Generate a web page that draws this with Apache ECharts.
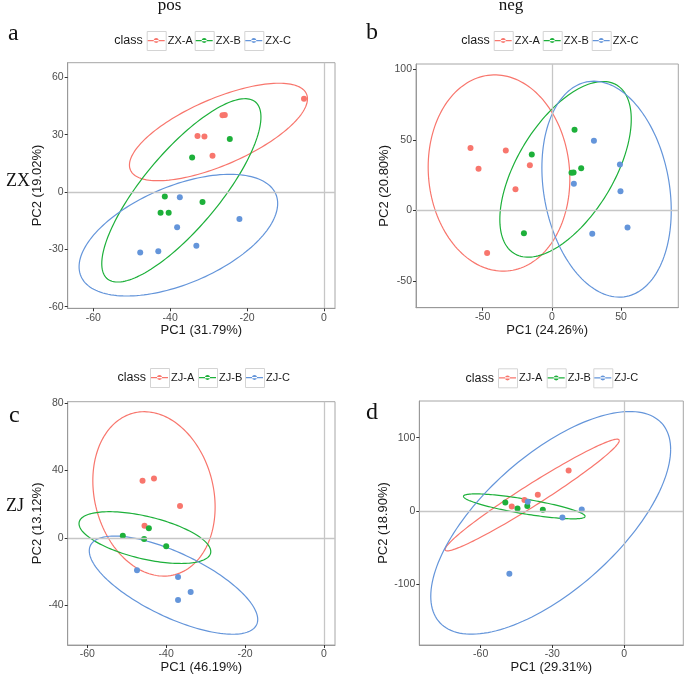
<!DOCTYPE html>
<html>
<head>
<meta charset="utf-8">
<script src="https://cdn.jsdelivr.net/npm/echarts@6/dist/echarts.min.js"></script>
<style>
html,body{margin:0;padding:0;background:#fff;}
#chart{width:685px;height:679px;}
</style>
</head>
<body>
<div id="chart"></div>
<script>
// ---------- DATA ----------
const classes1 = ['ZX-A', 'ZX-B', 'ZX-C'];
const classes2 = ['ZJ-A', 'ZJ-B', 'ZJ-C'];

// panel a: pos / ZX
const posZX_A = [[-5.2,48.8],[-26.4,40.1],[-25.8,40.3],[-32.9,29.3],[-31.1,29.0],[-29.0,19.0]];
const posZX_B = [[-24.5,27.7],[-34.3,18.0],[-41.4,-2.4],[-42.5,-10.8],[-40.4,-10.8],[-31.6,-5.2]];
const posZX_C = [[-37.5,-2.8],[-22.0,-14.1],[-38.2,-18.5],[-33.2,-28.1],[-43.1,-31.0],[-47.8,-31.7]];
// panel b: neg / ZX
const negZX_A = [[-58.8,44.2],[-53.0,29.5],[-33.3,42.5],[-15.9,32.1],[-26.3,15.1],[-46.8,-30.2]];
const negZX_B = [[16.4,57.2],[-14.5,39.7],[14.2,26.7],[15.7,26.9],[21.2,30.0],[-20.2,-16.1]];
const negZX_C = [[30.4,49.4],[49.2,32.6],[15.9,18.9],[49.6,13.7],[54.7,-12.0],[29.2,-16.5]];
// panel c: pos / ZJ
const posZJ_A = [[-46.0,33.9],[-43.1,35.3],[-36.5,18.9],[-45.5,7.1]];
const posZJ_B = [[-51.0,1.2],[-45.6,-0.8],[-44.4,5.6],[-40.0,-5.0]];
const posZJ_C = [[-47.4,-19.3],[-37.0,-23.4],[-33.8,-32.2],[-37.0,-37.1]];
// panel d: neg / ZJ
const negZJ_A = [[-23.2,55.1],[-36.1,21.9],[-41.7,15.0],[-47.0,5.9]];
const negZJ_B = [[-49.7,11.4],[-44.6,3.2],[-40.5,6.8],[-34.0,1.4]];
const negZJ_C = [[-40.3,12.3],[-25.8,-9.1],[-17.7,1.8],[-48.0,-86.1]];

// confidence ellipses: [xmin, xmax, ymin, ymax, cos(phase)]
const ellPosZX = [[-50.6,-4.3,5.9,56.9,0.68],[-57.8,-16.4,-47.1,48.8,0.8],[-63.7,-12.05,-54.4,9.25,0.52]];
const ellNegZX = [[-89.4,13.0,-43.0,96.1,-0.06],[-37.6,57.4,-33.1,91.4,0.57],[-7.2,86.3,-61.4,91.6,-0.197]];
const ellPosZJ = [[-58.6,-27.6,-22.8,75.0,-0.16],[-62.1,-28.7,-15.3,15.5,-0.54],[-59.5,-16.8,-57.4,1.0,-0.7]];
const ellNegZJ = [[-74.9,-2.0,-54.7,98.0,0.975],[-67.2,-16.3,-10.9,23.2,-0.8],[-80.9,19.5,-168.6,135.8,0.66]];

// tick labels
const xTicksA = [-60,-40,-20,0];  const yTicksA = [-60,-30,0,30,60];
const xTicksB = [-50,0,50];       const yTicksB = [-50,0,50,100];
const xTicksC = [-60,-40,-20,0];  const yTicksC = [-40,0,40,80];
const xTicksD = [-60,-30,0];      const yTicksD = [-100,0,100];

const xNames = ['PC1 (31.79%)','PC1 (24.26%)','PC1 (46.19%)','PC1 (29.31%)'];
const yNames = ['PC2 (19.02%)','PC2 (20.80%)','PC2 (13.12%)','PC2 (18.90%)'];

// ---------- LAYOUT / STYLE ----------
const colors = ['#F8766D', '#1DB03A', '#6495DA'];
const SANS = '"Liberation Sans", Arial, sans-serif';
const SERIF = '"Liberation Serif", "Times New Roman", serif';

const panels = [
  {grid:{left:67.7, top:62.7, width:267.3, height:245.6}, xr:[-66.66,2.86], yr:[-60.84,67.64], xt:xTicksA, yt:yTicksA,
   names:classes1, pts:[posZX_A,posZX_B,posZX_C], ell:ellPosZX, legendTop:31, boxes:[146.7,194.7,244.3]},
  {grid:{left:416, top:64, width:262.3, height:243.7}, xr:[-98.2,91.4], yr:[-68.9,103.8], xt:xTicksB, yt:yTicksB,
   names:classes1, pts:[negZX_A,negZX_B,negZX_C], ell:ellNegZX, legendTop:31, boxes:[493.7,542.7,591.7]},
  {grid:{left:67.7, top:401.7, width:267.3, height:243.3}, xr:[-64.97,2.79], yr:[-63.8,80.95], xt:xTicksC, yt:yTicksC,
   names:classes2, pts:[posZJ_A,posZJ_B,posZJ_C], ell:ellPosZJ, legendTop:368, boxes:[150,198,245]},
  {grid:{left:419.3, top:401, width:264, height:244}, xr:[-85.7,24.8], yr:[-183.4,150.2], xt:xTicksD, yt:yTicksD,
   names:classes2, pts:[negZJ_A,negZJ_B,negZJ_C], ell:ellNegZJ, legendTop:368.3, boxes:[498,546.7,593.3]}
];

const legendIcon = 'path://M0,0h0.01v0.01h-0.01Z M19,19h0.01v0.01h-0.01Z M1,9h17v1.2h-17Z M7,9.6a2.5,2.5 0 1,0 5,0a2.5,2.5 0 1,0 -5,0Z';

function ellipseRender(params, api) {
  const x0 = api.value(0), x1 = api.value(1), y0 = api.value(2), y1 = api.value(3), c = api.value(4);
  const cx = (x0 + x1) / 2, A = (x1 - x0) / 2, cy = (y0 + y1) / 2, B = (y1 - y0) / 2;
  const d = Math.acos(Math.max(-1, Math.min(1, c)));
  const pts = [];
  const N = 160;
  for (let i = 0; i <= N; i++) {
    const t = 2 * Math.PI * i / N;
    pts.push(api.coord([cx + A * Math.cos(t), cy + B * Math.cos(t - d)]));
  }
  return {type:'polyline', shape:{points:pts}, style:{fill:null, stroke:api.visual('color'), lineWidth:1.2}};
}

const grids = [], xAxes = [], yAxes = [], series = [], legends = [], graphics = [];

panels.forEach((p, k) => {
  grids.push(Object.assign({show:true, borderColor:'#a6a6a6', borderWidth:1, backgroundColor:'#fff', containLabel:false, outerBoundsMode:'none'}, p.grid));
  xAxes.push({
    gridIndex:k, type:'value', min:p.xr[0], max:p.xr[1],
    axisLine:{show:true, onZero:false, lineStyle:{color:'#999', width:1}},
    axisTick:{show:true, customValues:p.xt, length:3, lineStyle:{color:'#333'}},
    axisLabel:{customValues:p.xt, color:'#4d4d4d', fontSize:10.5, fontFamily:SANS, margin:4},
    splitLine:{show:false},
    name:xNames[k], nameLocation:'middle', nameGap:14,
    nameTextStyle:{fontSize:13, color:'#1a1a1a', fontFamily:SANS}
  });
  yAxes.push({
    gridIndex:k, type:'value', min:p.yr[0], max:p.yr[1],
    axisLine:{show:true, onZero:false, lineStyle:{color:'#999', width:1}},
    axisTick:{show:true, customValues:p.yt, length:3, lineStyle:{color:'#333'}},
    axisLabel:{customValues:p.yt, color:'#4d4d4d', fontSize:10.5, fontFamily:SANS, margin:4},
    splitLine:{show:false},
    name:yNames[k], nameLocation:'middle', nameGap:24,
    nameTextStyle:{fontSize:13, color:'#1a1a1a', fontFamily:SANS}
  });
  // zero reference lines
  series.push({
    type:'line', xAxisIndex:k, yAxisIndex:k, data:[], z:1, silent:true,
    markLine:{symbol:['none','none'], silent:true, label:{show:false}, animation:false,
      lineStyle:{color:'#c6c6c6', width:1.3, type:'solid'},
      emphasis:{disabled:true},
      data:[{xAxis:0},{yAxis:0}]}
  });
  p.names.forEach((nm, j) => {
    series.push({
      type:'custom', name:nm, xAxisIndex:k, yAxisIndex:k, z:2, silent:true,
      itemStyle:{color:colors[j]}, renderItem:ellipseRender, data:[p.ell[j]], clip:true
    });
  });
  p.names.forEach((nm, j) => {
    series.push({
      type:'scatter', name:nm, xAxisIndex:k, yAxisIndex:k, z:3,
      symbol:'circle', symbolSize:6, itemStyle:{color:colors[j], opacity:1},
      data:p.pts[j]
    });
  });
  // legend: one component per key, plus key boxes
  p.names.forEach((nm, j) => {
    legends.push({
      data:[nm], left:p.boxes[j], top:p.legendTop, padding:0, itemWidth:19, itemHeight:19,
      icon:legendIcon, selectedMode:false, z:5,
      textStyle:{fontSize:11, color:'#1a1a1a', fontFamily:SANS, padding:[0,0,0,-3]}
    });
    graphics.push({type:'rect', left:p.boxes[j], top:p.legendTop, z:1,
      shape:{width:19, height:19}, style:{fill:'#fff', stroke:'#d4d4d4', lineWidth:1}});
  });
  graphics.push({type:'text', z:5, x:p.boxes[0] - 4, y:p.legendTop + 10,
    style:{text:'class', fontSize:12.5, fontFamily:SANS, fill:'#1a1a1a', align:'right', verticalAlign:'middle'}});
});

// titles and panel letters
const serifTexts = [
  {t:'pos', x:169.5, y:6, s:17, a:'center'},
  {t:'neg', x:511, y:6, s:17, a:'center'},
  {t:'a', x:8, y:33.5, s:24, a:'left'},
  {t:'b', x:366, y:33, s:24, a:'left'},
  {t:'c', x:9, y:415.5, s:24, a:'left'},
  {t:'d', x:366, y:413, s:24, a:'left'},
  {t:'ZX', x:6, y:181, s:18, a:'left'},
  {t:'ZJ', x:6, y:506, s:18, a:'left'}
];
serifTexts.forEach(o => graphics.push({type:'text', z:5, x:o.x, y:o.y,
  style:{text:o.t, fontSize:o.s, fontFamily:SERIF, fill:'#111', align:o.a, verticalAlign:'middle'}}));

const chart = echarts.init(document.getElementById('chart'), null, {renderer:'canvas'});
chart.setOption({
  animation:false,
  backgroundColor:'#fff',
  grid:grids, xAxis:xAxes, yAxis:yAxes,
  legend:legends,
  series:series,
  graphic:{elements:graphics}
});
</script>
</body>
</html>
